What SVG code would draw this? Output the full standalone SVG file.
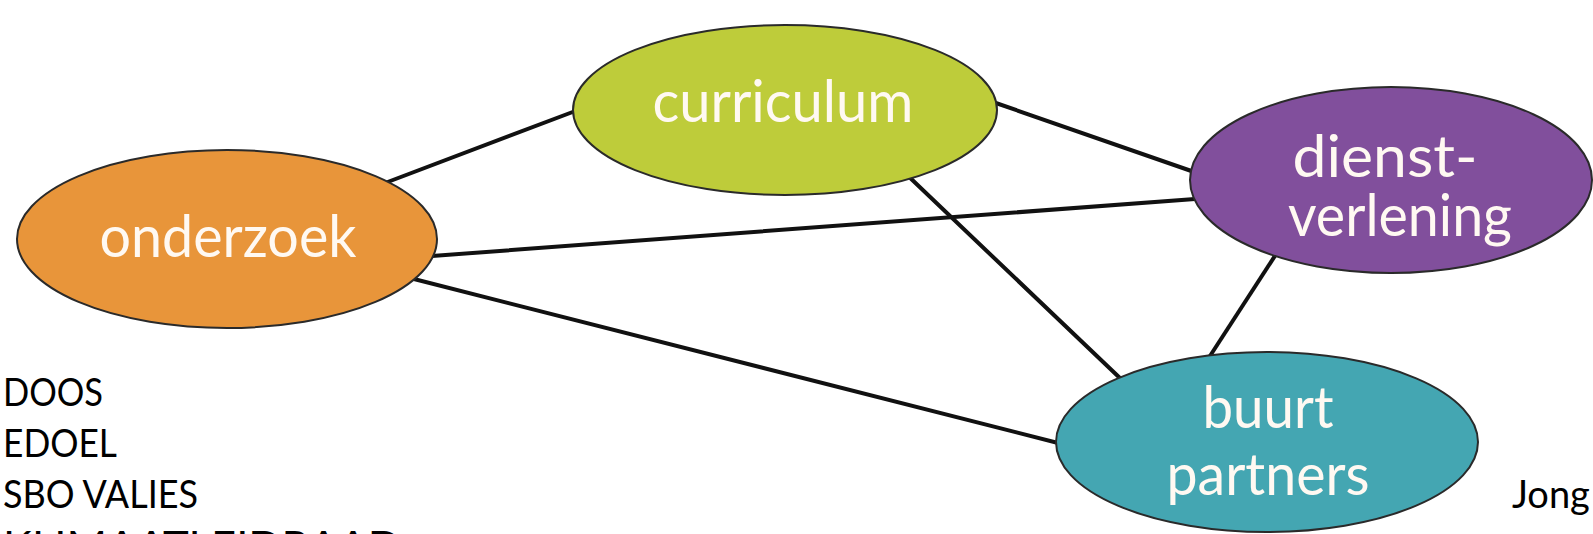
<svg xmlns="http://www.w3.org/2000/svg" width="1593" height="534" viewBox="0 0 1593 534">
<style>
.edge{stroke:#111;stroke-width:4;stroke-linecap:round;fill:none}
.node{stroke:#2a2a2a;stroke-width:2}
.lbl{font-family:Lato,"Open Sans","Liberation Sans",sans-serif;font-size:59px;fill:#FFF9F2;text-anchor:middle}
.side{font-family:Lato,"Open Sans","Liberation Sans",sans-serif;font-size:38px;fill:#000}
</style>
<rect width="1593" height="534" fill="#fff"/>
<g id="connectors">
<line class="edge" x1="385" y1="183" x2="578" y2="110"/>
<line class="edge" x1="990" y1="101" x2="1200" y2="174"/>
<line class="edge" x1="432" y1="256" x2="1195" y2="199"/>
<line class="edge" x1="410" y1="278" x2="1062" y2="444"/>
<line class="edge" x1="905" y1="173" x2="1122" y2="380"/>
<line class="edge" x1="1282" y1="245" x2="1210" y2="356"/>
</g>
<g id="onderzoek">
<ellipse class="node" cx="227" cy="239" rx="210" ry="89" fill="#E8953A"/>
<text class="lbl" x="228" y="257" textLength="257" lengthAdjust="spacingAndGlyphs">onderzoek</text>
</g>
<g id="curriculum">
<ellipse class="node" cx="785" cy="110" rx="212" ry="85" fill="#BECC3A"/>
<text class="lbl" x="783" y="122" textLength="261" lengthAdjust="spacingAndGlyphs">curriculum</text>
</g>
<g id="dienstverlening">
<ellipse class="node" cx="1391" cy="180" rx="201" ry="93" fill="#814F9C"/>
<text class="lbl" x="1385" y="177" textLength="185" lengthAdjust="spacingAndGlyphs">dienst-</text>
<text class="lbl" x="1400" y="236" textLength="224" lengthAdjust="spacingAndGlyphs">verlening</text>
</g>
<g id="buurtpartners">
<ellipse class="node" cx="1267" cy="442" rx="211" ry="90" fill="#44A6B2"/>
<text class="lbl" x="1268" y="428" textLength="131" lengthAdjust="spacingAndGlyphs">buurt</text>
<text class="lbl" x="1268" y="495" textLength="203" lengthAdjust="spacingAndGlyphs">partners</text>
</g>
<g id="notes">
<text class="side" x="3" y="406" textLength="100" lengthAdjust="spacingAndGlyphs">DOOS</text>
<text class="side" x="3" y="457" textLength="114" lengthAdjust="spacingAndGlyphs">EDOEL</text>
<text class="side" x="3" y="508" textLength="195" lengthAdjust="spacingAndGlyphs">SBO VALIES</text>
<text class="side" x="3" y="559" textLength="398" lengthAdjust="spacingAndGlyphs">KLIMAATLEIDRAAD</text>
<text class="side" x="1512" y="508" font-size="41">Jong</text>
</g>
</svg>
